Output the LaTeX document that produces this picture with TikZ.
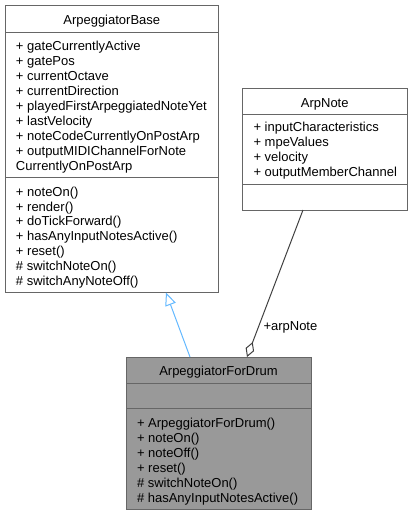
\documentclass[tikz,border=0pt]{standalone}
\usepackage{fontspec}
\setmainfont{Liberation Sans}
\usetikzlibrary{arrows.meta,calc}
\definecolor{edgegray}{HTML}{666666}
\definecolor{drumfill}{HTML}{999999}
\definecolor{inhblue}{HTML}{63B8FF}
\definecolor{aggr}{HTML}{404040}
\begin{document}
\begin{tikzpicture}[x=1pt,y=-1pt,
  box/.style={draw=edgegray, line width=1pt, rectangle, outer sep=0pt, inner sep=0pt, anchor=north west},
  sep/.style={draw=edgegray, line width=1pt},
  txt/.style={inner sep=0pt, outer sep=0pt, font=\fontsize{13}{15}\selectfont, anchor=base west},
  ttl/.style={txt, anchor=base},
  inh/.style={draw=inhblue, line width=1pt, -{Triangle[open, length=13pt, width=11pt]}},
  agg/.style={draw=aggr, line width=1pt, {Diamond[open, length=16pt, width=9pt]}-}]
\useasboundingbox (0,0) rectangle (413,515);
% boxes
\node[box, minimum width=213.5pt, minimum height=287.5pt] (base) at (5,5) {};
\node[box, minimum width=164.5pt, minimum height=122pt] (arpnote) at (242.5,88) {};
\node[box, fill=drumfill, minimum width=185pt, minimum height=152pt] (drum) at (126,357) {};
% separators
\draw[sep] ($(base.north west)+(0,27.5)$) -- ($(base.north east)+(0,27.5)$);
\draw[sep] ($(base.north west)+(0,172)$) -- ($(base.north east)+(0,172)$);
\draw[sep] ($(arpnote.north west)+(0,26)$) -- ($(arpnote.north east)+(0,26)$);
\draw[sep] ($(arpnote.north west)+(0,96.5)$) -- ($(arpnote.north east)+(0,96.5)$);
\draw[sep] ($(drum.north west)+(0,26)$) -- ($(drum.north east)+(0,26)$);
\draw[sep] ($(drum.north west)+(0,51)$) -- ($(drum.north east)+(0,51)$);
% titles
\node[ttl] (baset) at (111.75,24.7) {ArpeggiatorBase};
\node[ttl] (arpt) at (324.75,107.3) {ArpNote};
\node[ttl] (drumt) at (218.5,375.3) {ArpeggiatorForDrum};
% base attributes
\foreach \t [count=\i from 0] in {+ gateCurrentlyActive,+ gatePos,+ currentOctave,+ currentDirection,+ playedFirstArpeggiatedNoteYet,+ lastVelocity,+ noteCodeCurrentlyOnPostArp,+ outputMIDIChannelForNote,CurrentlyOnPostArp}
  \node[txt] (ba\i) at (16,50+15*\i) {\t};
% base methods
\foreach \t [count=\i from 0] in {+ noteOn(),+ render(),+ doTickForward(),+ hasAnyInputNotesActive(),+ reset(),\# switchNoteOn(),\# switchAnyNoteOff()}
  \node[txt] (bm\i) at (16,196.3+14.8*\i) {\t};
% arpnote attributes
\foreach \t [count=\i from 0] in {+ inputCharacteristics,+ mpeValues,+ velocity,+ outputMemberChannel}
  \node[txt] (aa\i) at (253.5,131.4+15*\i) {\t};
% drum methods
\foreach \t [count=\i from 0] in {+ ArpeggiatorForDrum(),+ noteOn(),+ noteOff(),+ reset(),\# switchNoteOn(),\# hasAnyInputNotesActive()}
  \node[txt] (dm\i) at (137,427.4+15*\i) {\t};
% connectors
\draw[inh] ($(drum.north west)+(64,0)$) -- ($(base.south west)+(161,0)$);
\draw[agg] ($(drum.north west)+(121,0)$) -- ($(arpnote.south west)+(60.5,0)$);
\node[txt] (lbl) at (263.5,330.5) {+arpNote};
\end{tikzpicture}
\end{document}
